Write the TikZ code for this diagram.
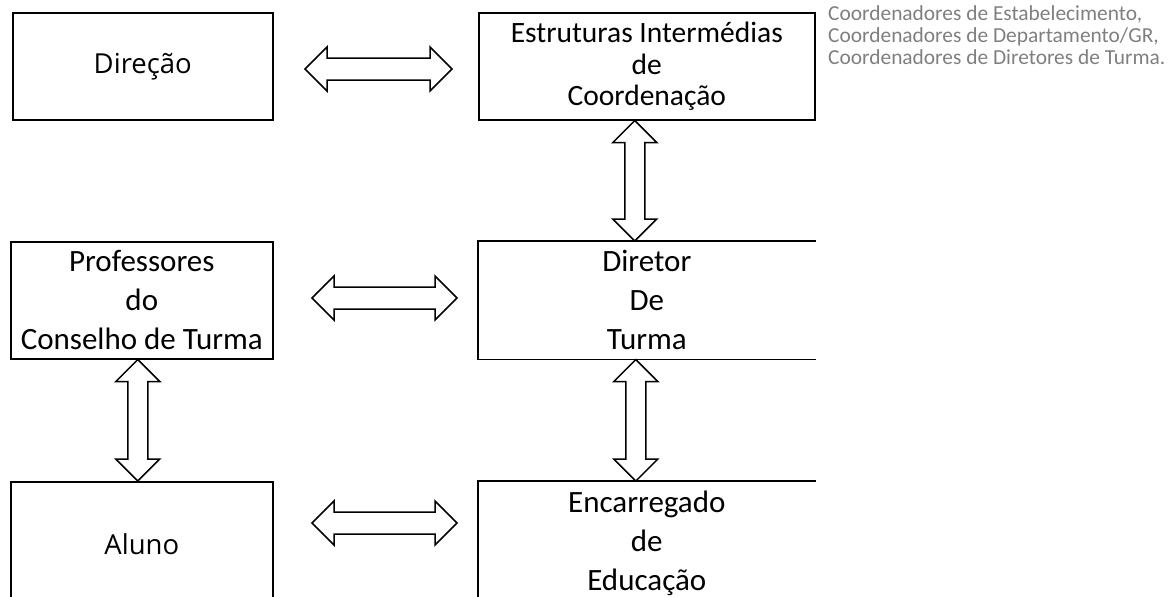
\documentclass[tikz,border=0pt]{standalone}
\usepackage{fontspec}
\setmainfont{Carlito}
\newfontfamily\segoe{Open Sans}
\usetikzlibrary{calc}
\definecolor{notegray}{RGB}{127,127,127}

\tikzset{
  box/.style={inner sep=0pt, align=center, anchor=north west, line width=1.6pt,
    font=\fontsize{31}{39}\selectfont},
  edge/.style={line width=1.6pt, line join=miter},
  note/.style={inner sep=0pt, align=left, anchor=north west, text=notegray,
    font=\fontsize{21.4}{22.4}\selectfont},
  blk/.style={draw, line width=1.5pt, fill=white, line join=miter},
  % hollow double arrow, left to right
  harrow/.style={blk, to path={let \p1=(\tikztostart), \p2=(\tikztotarget) in
    (\p1) -- (\x1+22pt,\y1+22pt) -- (\x1+22pt,\y1+11pt) -- (\x2-22pt,\y2+11pt)
    -- (\x2-22pt,\y2+22pt) -- (\p2) -- (\x2-22pt,\y2-22pt) -- (\x2-22pt,\y2-11pt)
    -- (\x1+22pt,\y1-11pt) -- (\x1+22pt,\y1-22pt) -- cycle}},
  % hollow double arrow, top to bottom
  varrow/.style={blk, to path={let \p1=(\tikztostart), \p2=(\tikztotarget) in
    (\p1) -- (\x1+22pt,\y1-22pt) -- (\x1+10pt,\y1-22pt) -- (\x2+10pt,\y2+22pt)
    -- (\x2+22pt,\y2+22pt) -- (\p2) -- (\x2-22pt,\y2+22pt) -- (\x2-10pt,\y2+22pt)
    -- (\x1-10pt,\y1-22pt) -- (\x1-22pt,\y1-22pt) -- cycle}}
}

\begin{document}
\begin{tikzpicture}[x=1pt, y=-1pt]
  \useasboundingbox (0,0) rectangle (1168,597);
  \clip (0,0) rectangle (1168,597);

  % boxes
  \node[box, draw, minimum width=260pt, minimum height=107pt,
    font=\segoe\fontsize{27.5}{32}\selectfont] (dir) at (12,12) {Direção};
  \node[box, draw, minimum width=336pt, minimum height=107pt,
    font=\fontsize{29.5}{31.5}\selectfont] (est) at (478,12)
    {Estruturas Intermédias\\de\\Coordenação};
  \node[box, draw, minimum width=262pt, minimum height=117pt] (prof) at (10,241)
    {Professores\\do\\Conselho de Turma};
  \node[box, minimum width=336pt, minimum height=117pt] (dt) at (478,241)
    {Diretor\\De\\Turma};
  \node[box, draw, minimum width=262pt, minimum height=124pt,
    font=\segoe\fontsize{27.5}{32}\selectfont] (aluno) at (10,481) {Aluno};
  \node[box, minimum width=336pt, minimum height=124pt] (ee) at (478,481)
    {Encarregado\\de\\Educação};

  \draw[edge] (dt.north east) -- (dt.north west) -- (dt.south west) -- (dt.south east);
  \draw[edge] (ee.north east) -- (ee.north west) -- (ee.south west) -- (ee.south east);

  \node[note] (coord) at (828,5) {Coordenadores de Estabelecimento,\\
    Coordenadores de Departamento/GR,\\Coordenadores de Diretores de Turma.};

  % arrow ends
  \coordinate (h1l) at (305,69);
  \coordinate (h1r) at (452,69);
  \coordinate (h2l) at (312,298);
  \coordinate (h2r) at (457,298);
  \coordinate (h3l) at (312,523);
  \coordinate (h3r) at (457,523);
  \coordinate (v1t) at ([xshift=-12pt]est.south);
  \coordinate (v1b) at ([xshift=-12pt]dt.north);
  \coordinate (v2t) at ([xshift=-4pt]prof.south);
  \coordinate (v2b) at ([xshift=-4pt]aluno.north);
  \coordinate (v3t) at ([xshift=-11pt]dt.south);
  \coordinate (v3b) at ([xshift=-11pt]ee.north);

  \draw[harrow] (h1l) to (h1r);
  \draw[harrow] (h2l) to (h2r);
  \draw[harrow] (h3l) to (h3r);
  \draw[varrow] (v1t) to (v1b);
  \draw[varrow] (v2t) to (v2b);
  \draw[varrow] (v3t) to (v3b);
\end{tikzpicture}
\end{document}
